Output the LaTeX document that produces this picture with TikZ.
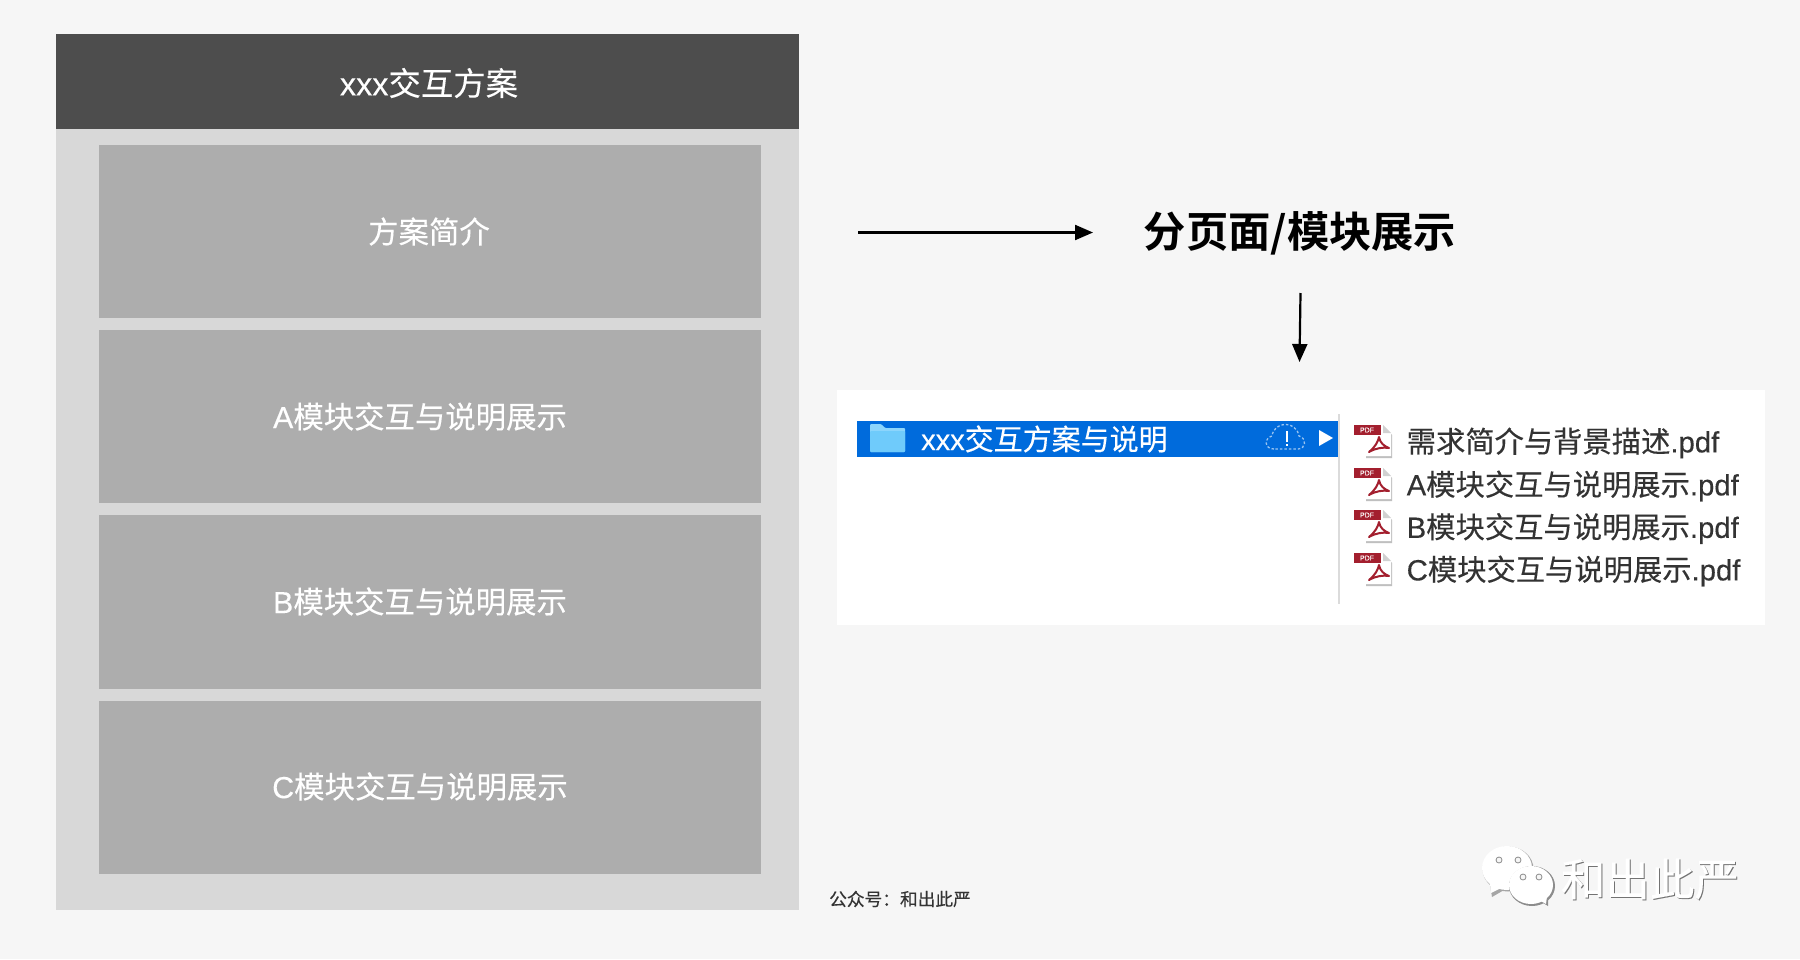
\documentclass[tikz,border=0pt]{standalone}
\usepackage{fontspec}
\setmainfont[FakeBold=0.25]{Liberation Sans}
\newfontfamily\cjk[FakeBold=0.25]{Noto Sans CJK SC}
\newfontfamily\cjkb[FakeBold=0.0]{Noto Sans CJK SC Bold}
\usetikzlibrary{arrows.meta}
\definecolor{bgc}{HTML}{F6F6F6}
\definecolor{headc}{HTML}{4D4D4D}
\definecolor{panelc}{HTML}{D8D8D8}
\definecolor{boxc}{HTML}{ADADAD}
\definecolor{bluec}{HTML}{006BDC}
\definecolor{folderc}{HTML}{6FCBFB}
\definecolor{pdfred}{HTML}{A31F2E}
\definecolor{filec}{HTML}{333333}
\newcommand{\sz}[1]{\fontsize{#1}{#1}\selectfont}
\newcommand{\pdficon}[2]{%
  \begin{scope}[shift={(#1,#2)}]
    \fill[black!25] (1366,1) -- (1383,1) -- (1392,10) -- (1392,33) -- (1366,33) -- cycle;
    \fill[white] (1366,0) -- (1383,0) -- (1391,8) -- (1391,31) -- (1366,31) -- cycle;
    \fill[black!18] (1383,0) -- (1391,8) -- (1383,8) -- cycle;
    \fill[pdfred] (1354,0) rectangle (1381,10);
    \node[font=\sz{7},text=white,inner sep=0pt] at (1367,5) {PDF};
    \draw[pdfred,line width=2pt,line join=round]
      (1369,27) .. controls (1375,22) and (1378,17) .. (1379,12)
      .. controls (1380,18) and (1384,21) .. (1389,23)
      .. controls (1383,22) and (1376,23) .. (1369,27) -- cycle;
  \end{scope}}
\tikzset{
  box/.style={fill=boxc,draw=none},
  lbl/.style={text=white,inner sep=0pt,font=\sz{30.4}},
  filetext/.style={text=filec,inner sep=0pt,anchor=west,font=\sz{29.3}},
  arr/.style={line width=2.2pt,black,-{Triangle[length=18pt,width=15pt]}}
}
\begin{document}
\begin{tikzpicture}[x=1pt,y=-1pt]
\useasboundingbox (0,0) rectangle (1800,959);
\fill[bgc] (0,0) rectangle (1800,959);
% left column
\fill[panelc] (56,128) rectangle (799,910);
\fill[headc] (56,34) rectangle (799,128.5);
\fill[box] (99,145) rectangle (761,318);
\fill[box] (99,330) rectangle (761,503);
\fill[box] (99,515) rectangle (761,689);
\fill[box] (99,701) rectangle (761,874);
\node[lbl,font=\sz{32.4}] (head) at (429,83) {xxx{\cjk 交互方案}};
\node[lbl] (intro) at (429,231.5) {\cjk 方案简介};
\node[lbl] (moda) at (420,416.5) {A{\cjk 模块交互与说明展示}};
\node[lbl] (modb) at (420,601.5) {B{\cjk 模块交互与说明展示}};
\node[lbl] (modc) at (420,786.5) {C{\cjk 模块交互与说明展示}};
% title and arrows
\node[inner sep=0pt,text=black,font=\sz{42.3}] (title) at (1300,233) {\cjkb 分页面/模块展示};
\coordinate (a1s) at (858,232.5);
\coordinate (a1e) at (1093,232.5);
\coordinate (a2s) at (1300.5,293);
\coordinate (a2e) at (1299.5,362);
\draw[arr] (a1s) -- (a1e);
\draw[arr] (a2s) -- (a2e);
% finder panel
\fill[white] (837,390) rectangle (1764.5,625);
\fill[bluec] (857,421) rectangle (1338,457);
\fill[black!14] (1338,414) rectangle (1340,604);
% folder
\fill[folderc!80!white,rounded corners=1pt] (870,452) -- (870,424) -- (881,424) -- (885,428) -- (905,428) -- (905,452) -- cycle;
\fill[folderc,rounded corners=1pt] (870,431) rectangle (905,452);
\node[inner sep=0pt,anchor=west,text=white,font=\sz{29}] (folder) at (921,439) {xxx{\cjk 交互方案与说明}};
% cloud
\draw[white!60!bluec,line width=1.3pt,dash pattern=on 2.5pt off 2pt]
  (1274,449) .. controls (1264,449) and (1264,438) .. (1272,436)
  .. controls (1274,421) and (1296,420) .. (1299,436)
  .. controls (1307,438) and (1306,449) .. (1298,449) -- cycle;
\fill[white] (1286.2,431) rectangle (1287.8,442);
\fill[white] (1286.2,444) rectangle (1287.8,446);
\fill[white] (1319,430) -- (1333,438) -- (1319,446) -- cycle;
% files
\pdficon{0}{425}
\pdficon{0}{468}
\pdficon{0}{510}
\pdficon{0}{553}
\node[filetext] (f1) at (1406.5,443) {{\cjk 需求简介与背景描述}.pdf};
\node[filetext] (f2) at (1406.5,486) {A{\cjk 模块交互与说明展示}.pdf};
\node[filetext] (f3) at (1406.5,528.5) {B{\cjk 模块交互与说明展示}.pdf};
\node[filetext] (f4) at (1406.5,571) {C{\cjk 模块交互与说明展示}.pdf};
% footer
\node[inner sep=0pt,anchor=west,text=filec,font=\sz{17.7}] (pub) at (829,899) {\cjk 公众号：和出此严};
% wechat mark
\fill[black!35] (1508,869) ellipse (25.5 and 22.5);
\fill[black!35] (1490,885) -- (1492,897) -- (1504,890) -- cycle;
\fill[white] (1507,868) ellipse (25 and 22);
\fill[white] (1490,884) -- (1491,893) -- (1503,887) -- cycle;
\fill[black!45] (1532,886) ellipse (23 and 20);
\fill[black!45] (1540,901) -- (1548,906) -- (1548,897) -- cycle;
\fill[white] (1531,885) ellipse (22 and 19);
\fill[white] (1539,900) -- (1546,904) -- (1547,896) -- cycle;
\foreach \ex/\ey in {1499/860,1518/860,1523/877,1539/877}
  \draw[black!45,fill=bgc,line width=0.8pt] (\ex,\ey) circle (3);
\node[inner sep=0pt,text=black!55,font=\sz{44.5}] (marks) at (1651,880) {\cjk 和出此严};
\node[inner sep=0pt,text=white,font=\sz{44.5}] (mark) at (1650,879) {\cjk 和出此严};
\end{tikzpicture}
\end{document}
